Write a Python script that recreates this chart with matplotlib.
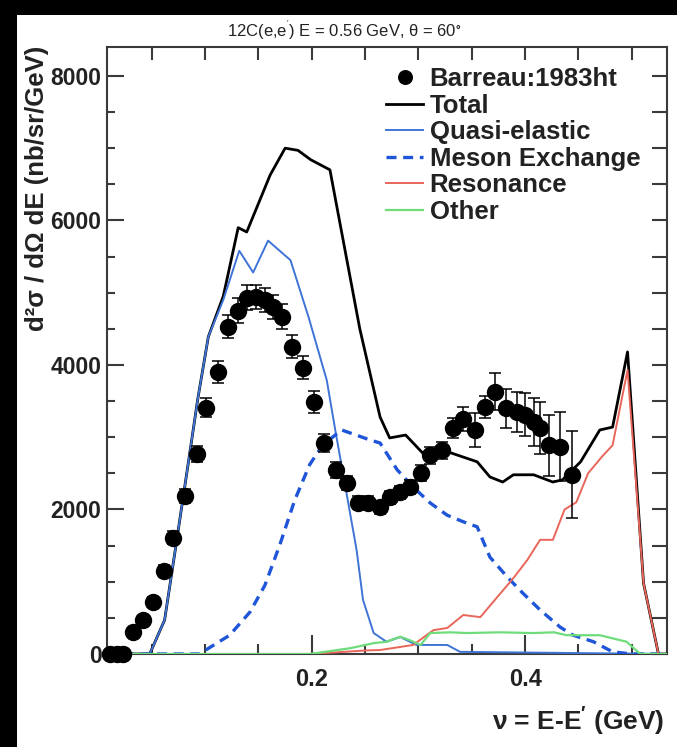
import matplotlib
matplotlib.use("Agg")
import matplotlib.pyplot as plt
from matplotlib.patches import Rectangle
from matplotlib.ticker import MultipleLocator

plt.rcParams['font.family'] = ['Liberation Sans', 'DejaVu Sans']
plt.rcParams['font.weight'] = 'bold'
plt.rcParams['mathtext.default'] = 'regular'

# ---- measured cross section (Barreau:1983ht) ----
data_nu = [0.011, 0.017, 0.023, 0.032, 0.042, 0.051, 0.061, 0.070, 0.081, 0.092,
           0.101, 0.112, 0.121, 0.131, 0.139, 0.148, 0.156, 0.164, 0.172, 0.181,
           0.192, 0.202, 0.211, 0.223, 0.233, 0.243, 0.253, 0.264, 0.273, 0.283,
           0.292, 0.302, 0.311, 0.322, 0.332, 0.342, 0.353, 0.362, 0.372, 0.382,
           0.392, 0.400, 0.408, 0.414, 0.422, 0.433, 0.444]
data_xs = [0, 0, 0, 305, 470, 720, 1150, 1610, 2190, 2770,
           3410, 3900, 4530, 4750, 4930, 4940, 4900, 4800, 4670, 4250,
           3960, 3490, 2920, 2550, 2370, 2090, 2090, 2030, 2170, 2240,
           2310, 2500, 2750, 2820, 3130, 3250, 3100, 3420, 3630, 3400,
           3350, 3310, 3210, 3130, 2890, 2870, 2480]
data_err = [30, 30, 30, 50, 60, 70, 80, 90, 100, 110,
            130, 150, 160, 170, 170, 170, 170, 170, 170, 160,
            160, 150, 130, 110, 100, 90, 90, 90, 90, 90,
            100, 110, 120, 120, 140, 170, 230, 150, 260, 270,
            280, 300, 330, 360, 420, 480, 600]

# ---- model curves ----
total_nu = [0.008, 0.040, 0.048, 0.062, 0.072, 0.086, 0.093, 0.103, 0.117, 0.131,
            0.139, 0.161, 0.175, 0.187, 0.199, 0.217, 0.245, 0.264, 0.273, 0.288,
            0.304, 0.327, 0.355, 0.367, 0.379, 0.389, 0.408, 0.426, 0.435, 0.452,
            0.470, 0.482, 0.496, 0.511, 0.525, 0.533]
total_xs = [0, 0, 0, 470, 1440, 2820, 3520, 4390, 4950, 5900,
            5840, 6630, 7000, 6970, 6840, 6700, 4500, 3280, 2990, 3030,
            2780, 2800, 2660, 2450, 2380, 2480, 2480, 2380, 2410, 2660,
            3100, 3140, 4180, 980, 0, 0]

qe_nu = [0.008, 0.048, 0.062, 0.072, 0.086, 0.093, 0.103, 0.117, 0.132, 0.145,
         0.159, 0.180, 0.197, 0.214, 0.222, 0.242, 0.248, 0.258, 0.270, 0.283,
         0.298, 0.327, 0.339, 0.533]
qe_xs = [0, 0, 470, 1440, 2820, 3520, 4390, 4900, 5580, 5280,
         5720, 5450, 4660, 3790, 3100, 1440, 750, 290, 170, 235,
         125, 125, 30, 0]

mec_nu = [0.008, 0.095, 0.100, 0.123, 0.142, 0.156, 0.170, 0.184, 0.198, 0.210,
          0.228, 0.255, 0.264, 0.280, 0.295, 0.311, 0.327, 0.342, 0.355, 0.367,
          0.383, 0.398, 0.414, 0.433, 0.445, 0.464, 0.482, 0.500, 0.533]
mec_xs = [0, 0, 50, 260, 580, 950, 1510, 2130, 2620, 2890,
          3100, 2960, 2920, 2550, 2310, 2090, 1920, 1830, 1760, 1340,
          1070, 840, 610, 370, 260, 170, 30, 0, 0]

res_nu = [0.008, 0.198, 0.252, 0.264, 0.295, 0.314, 0.327, 0.342, 0.358, 0.374,
          0.389, 0.402, 0.414, 0.426, 0.437, 0.448, 0.459, 0.472, 0.482, 0.496,
          0.511, 0.525, 0.533]
res_xs = [0, 0, 50, 55, 125, 330, 360, 540, 510, 790,
          1050, 1300, 1580, 1580, 2000, 2100, 2500, 2730, 2890, 3930,
          980, 0, 0]

other_nu = [0.008, 0.198, 0.236, 0.258, 0.270, 0.283, 0.292, 0.302, 0.311, 0.330,
            0.345, 0.376, 0.407, 0.427, 0.439, 0.470, 0.495, 0.508, 0.533]
other_xs = [0, 0, 80, 150, 170, 240, 190, 125, 290, 300,
            290, 300, 290, 300, 260, 260, 170, 0, 0]

legend_labels = ["Barreau:1983ht", "Total", "Quasi-elastic", "Meson Exchange",
                 "Resonance", "Other"]

W, H = 677, 747
fig = plt.figure(figsize=(W / 100, H / 100), dpi=100)
fig.patch.set_facecolor('white')
# dark border strips on the left and top
fig.patches.append(Rectangle((0, 0), 17 / W, 1, transform=fig.transFigure,
                             facecolor='black', edgecolor='none', zorder=-10))
fig.patches.append(Rectangle((0, 1 - 15 / H), 1, 15 / H, transform=fig.transFigure,
                             facecolor='black', edgecolor='none', zorder=-10))

ax_l, ax_r, ax_t, ax_b = 107, 667, 47, 654
ax = fig.add_axes([ax_l / W, 1 - ax_b / H, (ax_r - ax_l) / W, (ax_b - ax_t) / H])
ax.set_xlim(0.008, 0.533)
ax.set_ylim(0, 8400)

l_tot, = ax.plot(total_nu, total_xs, color='black', lw=2.0, zorder=3)
l_qe, = ax.plot(qe_nu, qe_xs, color='#3f74d6', lw=1.4, zorder=4)
l_mec, = ax.plot(mec_nu, mec_xs, color='#1f55d8', lw=2.4, ls=(0, (3, 2)), zorder=4)
l_res, = ax.plot(res_nu, res_xs, color='#e8665a', lw=1.4, zorder=4)
l_oth, = ax.plot(other_nu, other_xs, color='#6fdc7c', lw=1.6, zorder=4)

eb = ax.errorbar(data_nu, data_xs, yerr=data_err, fmt='o', color='black',
                 ms=11.5, elinewidth=1.1, capsize=4, capthick=1.1, zorder=5,
                 clip_on=False)
for art in eb.lines[1] + eb.lines[2]:
    art.set_clip_on(False)

for s in ax.spines.values():
    s.set_color('#3a3a3a')
    s.set_linewidth(1.5)

ax.xaxis.set_major_locator(MultipleLocator(0.2))
ax.xaxis.set_minor_locator(MultipleLocator(0.05))
ax.yaxis.set_major_locator(MultipleLocator(2000))
ax.yaxis.set_minor_locator(MultipleLocator(500))
ax.tick_params(axis='x', which='major', direction='in', length=14, width=1.5,
               color='#3a3a3a', labelsize=17, pad=10)
ax.tick_params(axis='x', which='minor', direction='in', length=7, width=1.5,
               color='#3a3a3a')
ax.tick_params(axis='y', which='major', direction='in', length=12, width=1.5,
               color='#3a3a3a', labelsize=16.5, pad=4)
ax.tick_params(axis='y', which='minor', direction='in', length=6, width=1.5,
               color='#3a3a3a')

# mirrored ticks on top and right
top = ax.secondary_xaxis('top')
top.xaxis.set_major_locator(MultipleLocator(0.05))
top.tick_params(direction='in', length=9, width=1.5, color='#3a3a3a',
                labeltop=False)
top.spines['top'].set_visible(False)
right = ax.secondary_yaxis('right')
right.yaxis.set_major_locator(MultipleLocator(500))
right.tick_params(direction='in', length=11, width=1.5, color='#3a3a3a',
                  labelright=False)
right.spines['right'].set_visible(False)

ax.set_xticks([0.2, 0.4])
ax.set_xticklabels(['0.2', '0.4'])
for lab in ax.get_xticklabels() + ax.get_yticklabels():
    lab.set_fontweight('bold')
    lab.set_color('#222222')

fig.text(37 / W, 1 - 46 / H, "d²σ / dΩ dE (nb/sr/GeV)", rotation=90,
         ha='center', va='top', fontsize=18.5, fontweight='bold', color='#222222')
fig.text(664 / W, 1 - 722 / H, r"ν = E-E$^{\prime}$ (GeV)", ha='right',
         va='center', fontsize=19, fontweight='bold', color='#222222')
fig.text(344 / W, 1 - 30 / H, "12C(e,e$^{'}$) E = 0.56 GeV, θ = 60$^{\\circ}$",
         ha='center', va='center', fontsize=12, fontweight='normal',
         family=['Liberation Sans Narrow', 'Liberation Sans', 'DejaVu Sans'],
         color='#222222')

leg = ax.legend([eb[0], l_tot, l_qe, l_mec, l_res, l_oth], legend_labels,
                loc='upper left', bbox_to_anchor=(386 / W, 1 - 67 / H),
                bbox_transform=fig.transFigure, frameon=False,
                prop={'size': 18.5, 'weight': 'bold'}, labelspacing=0.1,
                handlelength=1.45, handletextpad=0.25, borderpad=0,
                borderaxespad=0, markerscale=0.85)
for t in leg.get_texts():
    t.set_color('#222222')

fig.savefig('out.png', dpi=100, facecolor=fig.get_facecolor())
